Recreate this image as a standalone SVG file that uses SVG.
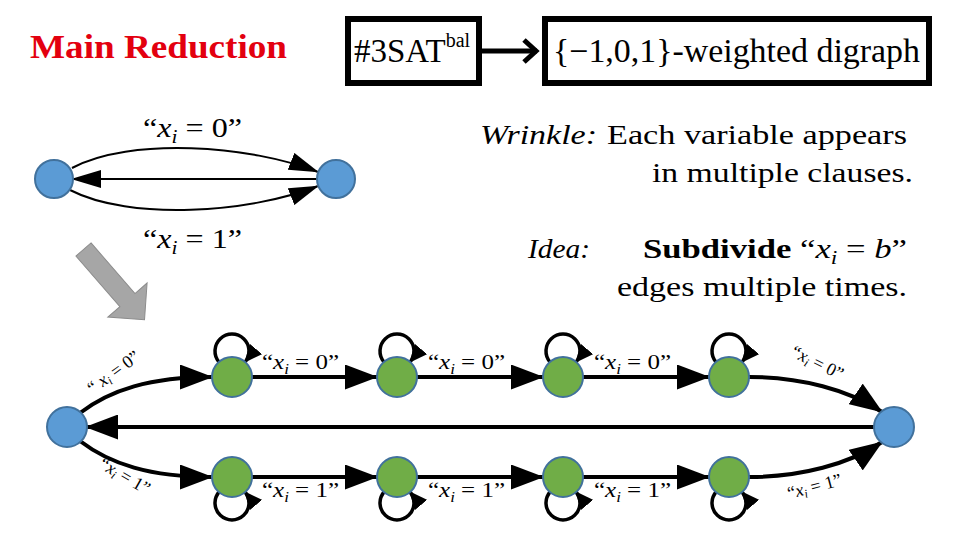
<svg xmlns="http://www.w3.org/2000/svg" width="960" height="540" viewBox="0 0 960 540">
<style>
text{font-family:"Liberation Serif","Times New Roman",serif;fill:#000}
.title{font-weight:bold;fill:#e3000f;font-size:33px}
.box{fill:#fff;stroke:#000;stroke-width:6}
.big{font-size:33px}
.body{font-size:28px}
.lab{font-size:27px}
.lab2{font-size:22px}
.lab3{font-size:18px}
.m{font-style:italic}
.b{font-weight:bold}
.thin{fill:none;stroke:#000;stroke-width:2}
.thick{fill:none;stroke:#000;stroke-width:4}
.loop{fill:none;stroke:#000;stroke-width:3.5}
.blue{fill:#5b9bd5;stroke:#41719c;stroke-width:2}
.green{fill:#70ad47;stroke:#41719c;stroke-width:2}
</style>
<defs>
<marker id="a1" markerUnits="userSpaceOnUse" markerWidth="30" markerHeight="18" refX="29" refY="9" orient="auto"><path d="M0,0 L30,9 L0,18 z"/></marker>
<marker id="a2" markerUnits="userSpaceOnUse" markerWidth="33" markerHeight="25" refX="32" refY="12.5" orient="auto"><path d="M0,0 L33,12.5 L0,25 z"/></marker>
<marker id="a3" markerUnits="userSpaceOnUse" markerWidth="18" markerHeight="16" refX="17" refY="8" orient="auto"><path d="M0,0 L18,8 L0,16 z"/></marker>
<marker id="chev" markerUnits="userSpaceOnUse" markerWidth="20" markerHeight="28" refX="16" refY="14" orient="auto"><path d="M3,3 L15,14 L3,25" fill="none" stroke="#000" stroke-width="5"/></marker>
</defs>

<text class="title" x="30" y="58" textLength="257" lengthAdjust="spacingAndGlyphs">Main Reduction</text>

<g id="box-3sat">
<rect class="box" x="348" y="19" width="131" height="64"/>
<text class="big" x="354" y="62">#3SAT<tspan font-size="20" dy="-15">bal</tspan></text>
</g>
<g id="box-digraph">
<rect class="box" x="545" y="19" width="384" height="64"/>
<text class="big" x="553" y="62" textLength="367" lengthAdjust="spacingAndGlyphs">{−1,0,1}-weighted digraph</text>
</g>

<g id="notes">
<text class="body m" x="480" y="144" textLength="117" lengthAdjust="spacingAndGlyphs">Wrinkle:</text>
<text class="body" x="607" y="144" textLength="300" lengthAdjust="spacingAndGlyphs">Each variable appears</text>
<text class="body" x="652" y="182" textLength="261" lengthAdjust="spacingAndGlyphs">in multiple clauses.</text>
<text class="body m" x="528" y="258" textLength="62" lengthAdjust="spacingAndGlyphs">Idea:</text>
<text class="body" x="643" y="258" textLength="264" lengthAdjust="spacingAndGlyphs"><tspan class="b">Subdivide</tspan> “<tspan class="m">x</tspan><tspan class="m" font-size="19" dy="6">i</tspan><tspan dy="-6"> = </tspan><tspan class="m">b</tspan>”</text>
<text class="body" x="617" y="296" textLength="290" lengthAdjust="spacingAndGlyphs">edges multiple times.</text>
</g>

<g id="connectors">
<path class="thin" d="M72,168 C130,137 250,145 318,172" marker-end="url(#a1)"/>
<path class="thin" d="M317,179 L72,179" marker-end="url(#a1)"/>
<path class="thin" d="M70,190 C130,221 250,213 318,186" marker-end="url(#a1)"/>
<path d="M482,51 L537,51" stroke="#000" stroke-width="5" fill="none" marker-end="url(#chev)"/>
<path class="thick" d="M80,413 C110,390 150,377 212,377" marker-end="url(#a2)"/>
<path class="thick" d="M252,377 L377,377" marker-end="url(#a2)"/>
<path class="thick" d="M417,377 L543,377" marker-end="url(#a2)"/>
<path class="thick" d="M583,377 L709,377" marker-end="url(#a2)"/>
<path class="thick" d="M749,377 C800,377 850,390 882,412" marker-end="url(#a2)"/>
<path class="thick" d="M80,441 C110,464 150,477 212,477" marker-end="url(#a2)"/>
<path class="thick" d="M252,477 L377,477" marker-end="url(#a2)"/>
<path class="thick" d="M417,477 L543,477" marker-end="url(#a2)"/>
<path class="thick" d="M583,477 L709,477" marker-end="url(#a2)"/>
<path class="thick" d="M749,477 C800,477 850,464 882,442" marker-end="url(#a2)"/>
<path class="thick" d="M875,427 L86,427" marker-end="url(#a2)"/>
<path class="loop" d="M219,362 A17,17 0 1 1 245,362" marker-end="url(#a3)"/>
<path class="loop" d="M384,362 A17,17 0 1 1 410,362" marker-end="url(#a3)"/>
<path class="loop" d="M550,362 A17,17 0 1 1 576,362" marker-end="url(#a3)"/>
<path class="loop" d="M716,362 A17,17 0 1 1 742,362" marker-end="url(#a3)"/>
<path class="loop" d="M219,492 A17,17 0 1 0 245,492" marker-end="url(#a3)"/>
<path class="loop" d="M384,492 A17,17 0 1 0 410,492" marker-end="url(#a3)"/>
<path class="loop" d="M550,492 A17,17 0 1 0 576,492" marker-end="url(#a3)"/>
<path class="loop" d="M716,492 A17,17 0 1 0 742,492" marker-end="url(#a3)"/>
</g>

<g id="edge-labels">
<text class="lab" x="143" y="137" textLength="99" lengthAdjust="spacingAndGlyphs">“<tspan class="m">x</tspan><tspan class="m" font-size="18" dy="6">i</tspan><tspan dy="-6"> = 0”</tspan></text>
<text class="lab" x="143" y="248" textLength="99" lengthAdjust="spacingAndGlyphs">“<tspan class="m">x</tspan><tspan class="m" font-size="18" dy="6">i</tspan><tspan dy="-6"> = 1”</tspan></text>
<text class="lab2" x="262" y="369" textLength="77" lengthAdjust="spacingAndGlyphs">“<tspan class="m">x</tspan><tspan class="m" font-size="15" dy="5">i</tspan><tspan dy="-5"> = 0”</tspan></text>
<text class="lab2" x="428" y="369" textLength="77" lengthAdjust="spacingAndGlyphs">“<tspan class="m">x</tspan><tspan class="m" font-size="15" dy="5">i</tspan><tspan dy="-5"> = 0”</tspan></text>
<text class="lab2" x="594" y="369" textLength="77" lengthAdjust="spacingAndGlyphs">“<tspan class="m">x</tspan><tspan class="m" font-size="15" dy="5">i</tspan><tspan dy="-5"> = 0”</tspan></text>
<text class="lab2" x="262" y="497" textLength="77" lengthAdjust="spacingAndGlyphs">“<tspan class="m">x</tspan><tspan class="m" font-size="15" dy="5">i</tspan><tspan dy="-5"> = 1”</tspan></text>
<text class="lab2" x="428" y="497" textLength="77" lengthAdjust="spacingAndGlyphs">“<tspan class="m">x</tspan><tspan class="m" font-size="15" dy="5">i</tspan><tspan dy="-5"> = 1”</tspan></text>
<text class="lab2" x="594" y="497" textLength="77" lengthAdjust="spacingAndGlyphs">“<tspan class="m">x</tspan><tspan class="m" font-size="15" dy="5">i</tspan><tspan dy="-5"> = 1”</tspan></text>
<text class="lab3" text-anchor="middle" transform="translate(117,377) rotate(-36)">“ <tspan class="m">x</tspan><tspan class="m" font-size="12" dy="3">i</tspan><tspan dy="-3"> = 0”</tspan></text>
<text class="lab3" text-anchor="middle" transform="translate(122,481) rotate(30)">“<tspan class="m">x</tspan><tspan class="m" font-size="12" dy="3">i</tspan><tspan dy="-3"> = 1”</tspan></text>
<text class="lab3" text-anchor="middle" transform="translate(815,368) rotate(26)">“<tspan class="m">x</tspan><tspan class="m" font-size="12" dy="3">i</tspan><tspan dy="-3"> = 0”</tspan></text>
<text class="lab3" text-anchor="middle" transform="translate(816,492) rotate(-15)">“<tspan class="m">x</tspan><tspan class="m" font-size="12" dy="3">i</tspan><tspan dy="-3"> = 1”</tspan></text>
</g>

<g id="big-arrow">
<polygon points="0,-10 67,-10 67,-26 93,0 67,26 67,10 0,10" transform="translate(83.5,249.5) rotate(49)" fill="#a6a6a6" stroke="#8c8c8c" stroke-width="1"/>
</g>

<g id="nodes">
<g id="s-left"><circle class="blue" cx="54" cy="179" r="19"/></g>
<g id="s-right"><circle class="blue" cx="336" cy="179" r="19"/></g>
<g id="b-left"><circle class="blue" cx="67" cy="427" r="20"/></g>
<g id="b-right"><circle class="blue" cx="894" cy="427" r="20"/></g>
<g id="g1t"><circle class="green" cx="232" cy="377" r="20"/></g>
<g id="g2t"><circle class="green" cx="397" cy="377" r="20"/></g>
<g id="g3t"><circle class="green" cx="563" cy="377" r="20"/></g>
<g id="g4t"><circle class="green" cx="729" cy="377" r="20"/></g>
<g id="g1b"><circle class="green" cx="232" cy="477" r="20"/></g>
<g id="g2b"><circle class="green" cx="397" cy="477" r="20"/></g>
<g id="g3b"><circle class="green" cx="563" cy="477" r="20"/></g>
<g id="g4b"><circle class="green" cx="729" cy="477" r="20"/></g>
</g>
</svg>
